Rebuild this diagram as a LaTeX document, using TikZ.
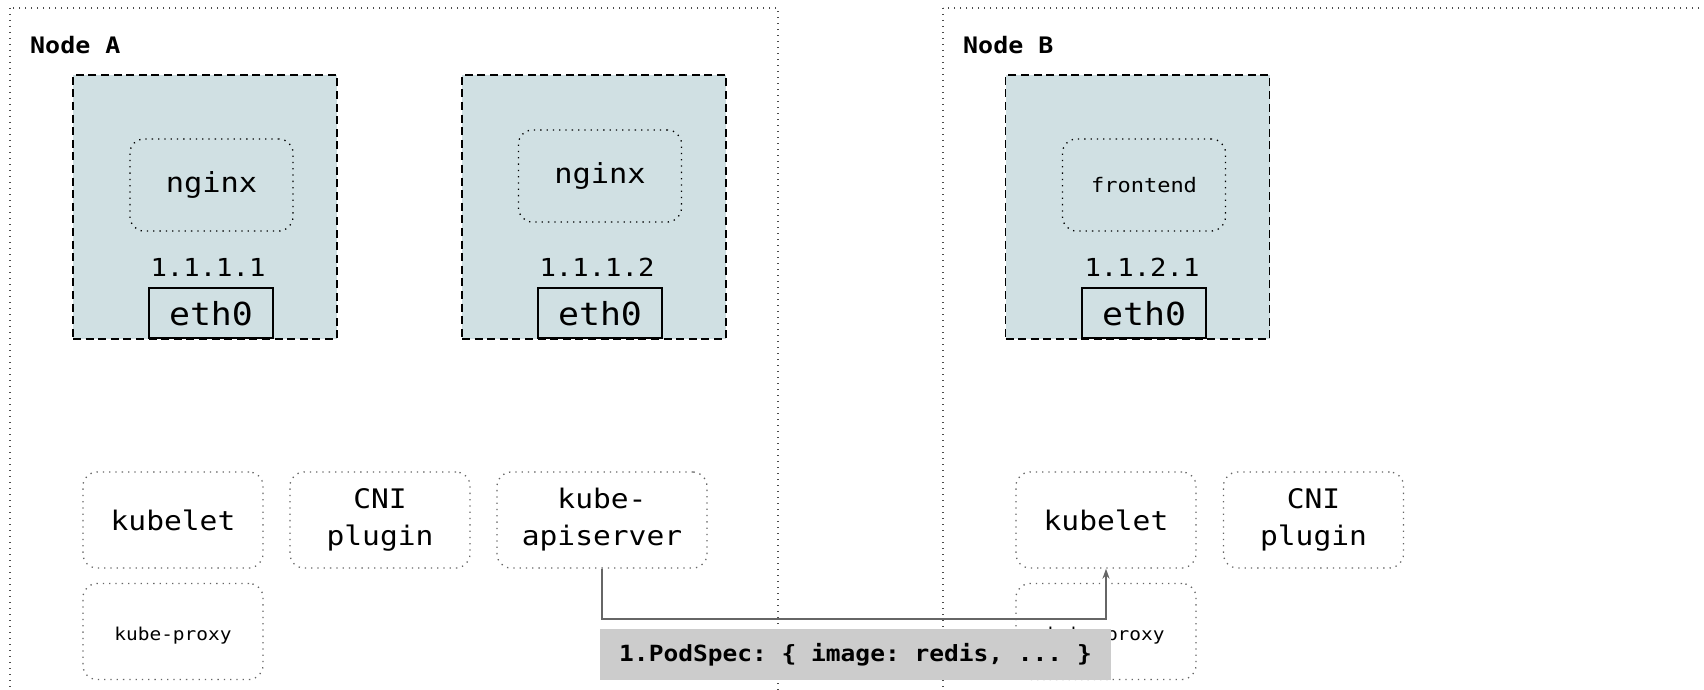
\documentclass[tikz,border=0pt]{standalone}
\usepackage{fontspec}
\setmonofont{DejaVu Sans Mono}[FakeStretch=1.1]
\usetikzlibrary{arrows.meta,positioning}

\definecolor{podfill}{HTML}{D0E0E3}
\definecolor{specfill}{HTML}{CCCCCC}
\definecolor{linkgray}{HTML}{666666}

\begin{document}
\begin{tikzpicture}[x=1pt,y=-1pt,>={Stealth[length=10pt,width=7pt]},
  host/.style={draw=black!70,line width=1.2pt,dash pattern=on 1.2pt off 4.8pt},
  hosttitle/.style={anchor=west,inner sep=0pt,font=\ttfamily\bfseries\fontsize{22.7}{26}\selectfont},
  pod/.style={draw,line width=1.6pt,dash pattern=on 8pt off 4.6pt,fill=podfill,
    minimum width=264pt,minimum height=264pt},
  ctr/.style={draw,line width=1.3pt,dash pattern=on 1.3pt off 5pt,rounded corners=14pt,
    minimum width=163pt,minimum height=92pt,font=\ttfamily\fontsize{27.6}{32}\selectfont},
  ip/.style={inner sep=0pt,font=\ttfamily\fontsize{24.8}{28}\selectfont},
  nic/.style={draw,line width=1.6pt,anchor=south,minimum width=124pt,minimum height=50pt,
    font=\ttfamily\fontsize{31.7}{34}\selectfont},
  comp/.style={draw=black!60,line width=1.3pt,dash pattern=on 1.3pt off 5pt,rounded corners=14pt,
    minimum width=180pt,minimum height=96pt,align=center,
    font=\ttfamily\fontsize{26.9}{37}\selectfont},
  proxy/.style={comp,text height=22pt,text depth=4pt,font=\ttfamily\fontsize{17.7}{20}\selectfont},
  conn/.style={draw=linkgray,line width=1.8pt,->},
  spec/.style={fill=specfill,minimum width=511pt,minimum height=51pt,
    font=\ttfamily\bfseries\fontsize{22.3}{26}\selectfont}]
  \useasboundingbox (0,0) rectangle (1704,690);
  \clip (0,0) rectangle (1704,690);

  % hosts
  \draw[host] (10,8) rectangle (778,730);
  \draw[host] (943,8) rectangle (1760,730);
  \node[hosttitle] (titleA) at (30,45) {Node A};
  \node[hosttitle] (titleB) at (963,45) {Node B};

  % pods on node A
  \node[pod] (podA1) at (205,207) {};
  \node[ctr] (nginxA1) at (211.5,185) {nginx};
  \node[ip] (ipA1) at (208,267) {1.1.1.1};
  \node[nic] (ethA1) at (211,339) {eth0};

  \node[pod] (podA2) at (594,207) {};
  \node[ctr] (nginxA2) at (600,176) {nginx};
  \node[ip] (ipA2) at (597,267) {1.1.1.2};
  \node[nic] (ethA2) at (600,339) {eth0};

  % pod on node B
  \node[pod] (podB) at (1137.5,207) {};
  \node[ctr,font=\ttfamily\fontsize{20}{24}\selectfont] (frontB) at (1144,185) {frontend};
  \node[ip] (ipB) at (1142,267) {1.1.2.1};
  \node[nic] (ethB) at (1144,339) {eth0};

  % node A components
  \node[comp] (kubeletA) at (173,520) {kubelet};
  \node[proxy] (proxyA) at (173,631.5) {kube-proxy};
  \node[comp] (cniA) at (380,520) {CNI\\plugin};
  \node[comp,minimum width=210pt] (apiserver) at (602,520) {kube-\\apiserver};

  % node B components
  \node[comp] (kubeletB) at (1106,520) {kubelet};
  \node[proxy] (proxyB) at (1106,631.5) {kube-proxy};
  \node[comp] (cniB) at (1313.5,520) {CNI\\plugin};

  % pod spec sent to kubelet
  \draw[conn] (apiserver.south) -- ++(0,50) -| (kubeletB.south);
  \node[spec] (podspec) at (855.5,654.5) {1.PodSpec: \{ image: redis, ... \}};
\end{tikzpicture}
\end{document}
